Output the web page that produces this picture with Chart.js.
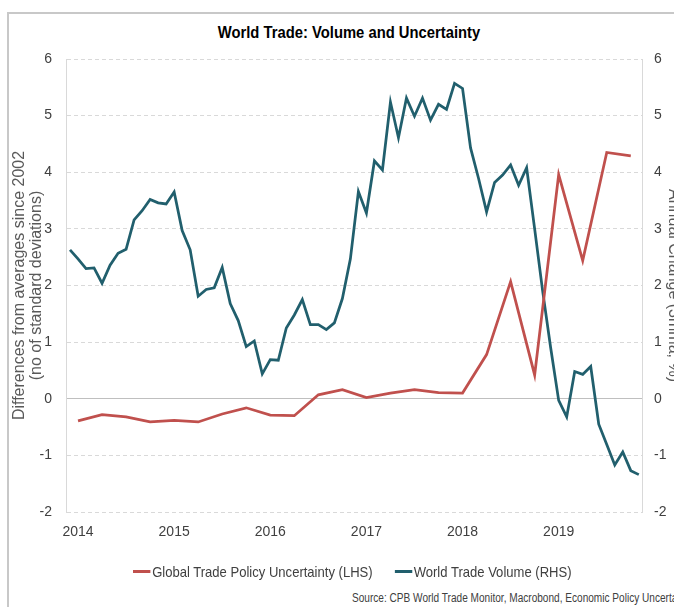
<!DOCTYPE html>
<html lang="en">
<head>
  <meta charset="UTF-8">
  <title>World Trade: Volume and Uncertainty</title>
  <style>
    body {
      margin: 0;
      padding: 0;
      background: #ffffff;
      overflow: hidden;
      font-family: 'Liberation Sans', Arial, sans-serif;
      color: #404040;
    }

    .frame {
      position: absolute;
      left: 7px;
      top: 12px;
      width: 800px;
      height: 700px;
      border: 2px solid #c8c8c8;
    }

    /* no narrow font installed, so squeeze the text a bit */
    .title {
      position: absolute;
      left: 0;
      top: 23px;
      width: 698px;
      text-align: center;
      font-size: 17px;
      font-weight: bold;
      color: #000;
      transform: scaleX(0.87);
    }

    #chart-wrap {
      position: absolute;
      left: 0;
      top: 0;
      width: 700px;
      height: 560px;
    }

    .legend {
      position: absolute;
      top: 559px;
      left: 133px;
      font-size: 15px;
      white-space: nowrap;
      transform: scaleX(0.87);
      transform-origin: left center;
    }

    .legend span.item {
      display: inline-flex;
      align-items: center;
      margin-right: 21px;
    }

    .legend i {
      display: inline-block;
      width: 20px;
      height: 3px;
      margin-right: 2px;
    }

    .source {
      position: absolute;
      left: 352px;
      top: 591px;
      font-size: 12px;
      white-space: nowrap;
      transform: scaleX(0.84);
      transform-origin: left center;
    }
  </style>
  <script src="https://cdn.jsdelivr.net/npm/chart.js"></script>
</head>
<body>
  <div class="frame"></div>
  <div class="title">World Trade: Volume and Uncertainty</div>

  <div id="chart-wrap">
    <canvas id="chart-trade" width="700" height="560"></canvas>
  </div>

  <div class="legend">
    <span class="item"><i style="background:#c0504d"></i>Global Trade Policy Uncertainty (LHS)</span>
    <span class="item"><i style="background:#215f6d"></i>World Trade Volume (RHS)</span>
  </div>

  <div class="source">Source: CPB World Trade Monitor, Macrobond, Economic Policy Uncertainty</div>

  <script>
    // tick labels on the x axis
    const years = [2014, 2015, 2016, 2017, 2018, 2019];

    // Global Trade Policy Uncertainty, quarterly (LHS, std. deviations)
    const policyUncertainty = [
      -0.39, -0.28, -0.32, -0.41,
      -0.38, -0.41, -0.27, -0.16,
      -0.29, -0.30, 0.07, 0.16,
      0.02, 0.10, 0.16, 0.11,
      0.10, 0.78, 2.07, 0.42,
      3.96, 2.44, 4.35, 4.29
    ];

    // World Trade Volume, monthly annual change (RHS, %)
    const tradeVolume = [
      2.63, 2.47, 2.30, 2.31, 2.04, 2.36, 2.57, 2.64, 3.16, 3.32, 3.52, 3.46,
      3.44, 3.65, 2.97, 2.63, 1.81, 1.93, 1.96, 2.32, 1.68, 1.38, 0.92, 1.02,
      0.44, 0.69, 0.68, 1.25, 1.48, 1.75, 1.31, 1.31, 1.22, 1.34, 1.77, 2.47,
      3.66, 3.28, 4.20, 4.04, 5.24, 4.61, 5.31, 4.99, 5.31, 4.92, 5.20, 5.11,
      5.57, 5.48, 4.43, 3.89, 3.30, 3.82, 3.95, 4.13, 3.77, 4.08, 3.00, 1.90,
      0.90, -0.03, -0.32, 0.48, 0.43, 0.57, -0.45, -0.81, -1.17, -0.94, -1.27, -1.34
    ];

    // x axis is counted in months from the first volume observation
    const volumePoints = tradeVolume.map((v, i) => ({ x: i, y: v }));
    const uncertaintyPoints = policyUncertainty.map((v, k) => ({ x: 1 + 3 * k, y: v }));
    const yearTicks = years.map(y => ({ value: 1 + 12 * (y - years[0]) }));

    const tickFont = { family: "'Liberation Sans', Arial, sans-serif", size: 14 };
    const titleFont = { family: "'Liberation Sans', Arial, sans-serif", size: 16, lineHeight: 1.05 };
    const gridDash = c => (c.tick && c.tick.value !== 0) ? [4, 3] : [];
    const gridColor = c => (c.tick && c.tick.value === 0) ? '#bfbfbf' : '#d9d9d9';

    const ctx = document.getElementById('chart-trade').getContext('2d');
    new Chart(ctx, {
      type: 'line',
      data: {
        datasets: [
          {
            label: 'Global Trade Policy Uncertainty (LHS)',
            data: uncertaintyPoints,
            yAxisID: 'y',
            borderColor: '#c0504d',
            borderWidth: 2.75,
            pointRadius: 0,
            tension: 0
          },
          {
            label: 'World Trade Volume (RHS)',
            data: volumePoints,
            yAxisID: 'y1',
            borderColor: '#215f6d',
            borderWidth: 2.75,
            pointRadius: 0,
            tension: 0
          }
        ]
      },
      options: {
        responsive: false,
        animation: false,
        layout: { padding: { top: 59, left: 0, right: 0, bottom: 0 } },
        plugins: {
          legend: { display: false },
          tooltip: { enabled: false }
        },
        scales: {
          x: {
            type: 'linear',
            min: -0.5,
            max: 71.4,
            grid: { display: false, drawTicks: false },
            border: { display: false },
            afterBuildTicks: s => { s.ticks = yearTicks.map(t => ({ value: t.value })); },
            afterFit: s => { s.height = 48; },
            ticks: {
              padding: 12,
              color: '#404040',
              font: tickFont,
              maxRotation: 0,
              callback: v => String(years[0] + Math.round((v - 1) / 12))
            }
          },
          y: {
            position: 'left',
            min: -2,
            max: 6,
            afterFit: s => { s.width = 66; },
            grid: { color: gridColor, lineWidth: 1, drawTicks: false },
            border: { display: true, color: '#d9d9d9', width: 1, dash: gridDash },
            ticks: { stepSize: 1, padding: 14, color: '#404040', font: tickFont },
            title: {
              display: true,
              text: ['Differences from averages since 2002', '(no of standard deviations)'],
              color: '#595959',
              font: titleFont,
              padding: { top: 11.6, bottom: 0 }
            }
          },
          y1: {
            position: 'right',
            min: -2,
            max: 6,
            afterFit: s => { s.width = 58; },
            grid: { display: false, drawTicks: false },
            border: { display: true, color: '#d9d9d9', width: 1 },
            ticks: { stepSize: 1, padding: 12, color: '#404040', font: tickFont },
            title: {
              display: true,
              text: 'Annual Change (3mma, %)',
              color: '#595959',
              font: titleFont,
              padding: { top: 18.6, bottom: 0 }
            }
          }
        }
      }
    });
  </script>
</body>
</html>
